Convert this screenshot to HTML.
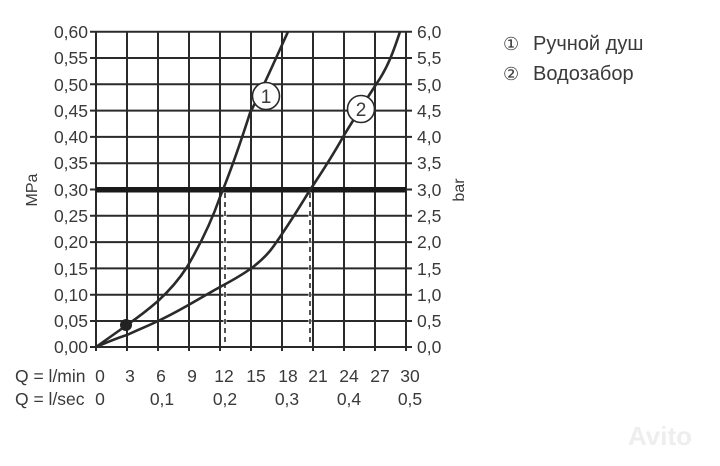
<!DOCTYPE html>
<html><head><meta charset="utf-8"><style>
html,body{margin:0;padding:0;background:#fff;}
svg{display:block;}
text{font-family:"Liberation Sans",sans-serif;fill:#3a3a3a;}
</style></head><body>
<svg width="720" height="466" viewBox="0 0 720 466" xmlns="http://www.w3.org/2000/svg">
<g stroke="#2a2a2a" stroke-width="2" fill="none">
<path d="M96 31.7H406M96 58H406M96 84.3H406M96 110.6H406M96 136.9H406M96 163.2H406M96 215.8H406M96 242.1H406M96 268.4H406M96 294.7H406M96 321H406M90 347H406"/>
<path d="M90 31.7H96M90 58H96M90 84.3H96M90 110.6H96M90 136.9H96M90 163.2H96M90 189.5H96M90 215.8H96M90 242.1H96M90 268.4H96M90 294.7H96M90 321H96"/>
<path d="M406 31.7H412M406 58H412M406 84.3H412M406 110.6H412M406 136.9H412M406 163.2H412M406 189.5H412M406 215.8H412M406 242.1H412M406 268.4H412M406 294.7H412M406 321H412M406 347H412"/>
<path d="M96 31.7V351M127 31.7V351M158 31.7V351M189 31.7V351M220 31.7V351M251 31.7V351M282 31.7V351M313 31.7V351M344 31.7V351M375 31.7V351M406 31.7V351"/>
</g>
<rect x="96" y="187" width="310" height="5.5" fill="#1a1a1a"/>
<g stroke="#fff" stroke-width="3"><path d="M225 193V345M310 193V345"/></g>
<g stroke="#2a2a2a" stroke-width="1.6" stroke-dasharray="5,4"><path d="M225 193V347M310 193V347"/></g>
<g stroke="#2a2a2a" stroke-width="2.6" fill="none">
<path d="M96 347 C110 337 120 330 127 325 C140 316 150 308 158 301 C170 290 180 278 187 267 C200 245 212 220 220 197 C232 168 242 138 250 113 C262 90 276 58 288 31.7"/>
<path d="M96 347 C110 341 120 337 127 335 C140 329 150 325 158 321 C180 311 200 298 220 287 C235 279 245 273 253 267 C262 260 268 254 273 247 C290 223 300 206 310 190 C322 172 333 155 343 137 C355 117 366 100 377 83 C388 67 394 50 400 31.7"/>
</g>
<circle cx="126" cy="325" r="6" fill="#222"/>
<g fill="#fff" stroke="#2a2a2a" stroke-width="1.6"><circle cx="266" cy="96" r="13.5"/><circle cx="361" cy="109" r="13.5"/></g>
<text x="266" y="103" font-size="19" text-anchor="middle">1</text>
<text x="361" y="116" font-size="19" text-anchor="middle">2</text>
<g font-size="17.5" text-anchor="end">
<text x="88" y="38">0,60</text><text x="88" y="64">0,55</text><text x="88" y="91">0,50</text><text x="88" y="117">0,45</text><text x="88" y="143">0,40</text><text x="88" y="169">0,35</text><text x="88" y="196">0,30</text><text x="88" y="222">0,25</text><text x="88" y="248">0,20</text><text x="88" y="275">0,15</text><text x="88" y="301">0,10</text><text x="88" y="327">0,05</text><text x="88" y="353">0,00</text>
</g>
<g font-size="17.5">
<text x="417" y="38">6,0</text><text x="417" y="64">5,5</text><text x="417" y="91">5,0</text><text x="417" y="117">4,5</text><text x="417" y="143">4,0</text><text x="417" y="169">3,5</text><text x="417" y="196">3,0</text><text x="417" y="222">2,5</text><text x="417" y="248">2,0</text><text x="417" y="275">1,5</text><text x="417" y="301">1,0</text><text x="417" y="327">0,5</text><text x="417" y="353">0,0</text>
</g>
<text transform="translate(37,190) rotate(-90)" font-size="16" text-anchor="middle">MPa</text>
<text transform="translate(464,190) rotate(-90)" font-size="16" text-anchor="middle">bar</text>
<g font-size="17.5" text-anchor="middle">
<text x="100" y="382">0</text><text x="130" y="382">3</text><text x="161" y="382">6</text><text x="192" y="382">9</text><text x="224" y="382">12</text><text x="256" y="382">15</text><text x="288" y="382">18</text><text x="318" y="382">21</text><text x="349" y="382">24</text><text x="380" y="382">27</text><text x="410" y="382">30</text>
<text x="100" y="405">0</text><text x="162" y="405">0,1</text><text x="225" y="405">0,2</text><text x="287" y="405">0,3</text><text x="349" y="405">0,4</text><text x="410" y="405">0,5</text>
</g>
<text x="15" y="382" font-size="17.5">Q = l/min</text>
<text x="15" y="405" font-size="17.5">Q = l/sec</text>
<g font-size="20" style="fill:#111">
<text x="503" y="50" font-size="18">①</text><text x="533" y="50">Ручной душ</text>
<text x="503" y="80" font-size="18">②</text><text x="533" y="80">Водозабор</text>
</g>
<text x="660" y="445" font-size="26" font-weight="bold" text-anchor="middle" style="fill:#eeeeee">Avito</text>
</svg>
</body></html>
